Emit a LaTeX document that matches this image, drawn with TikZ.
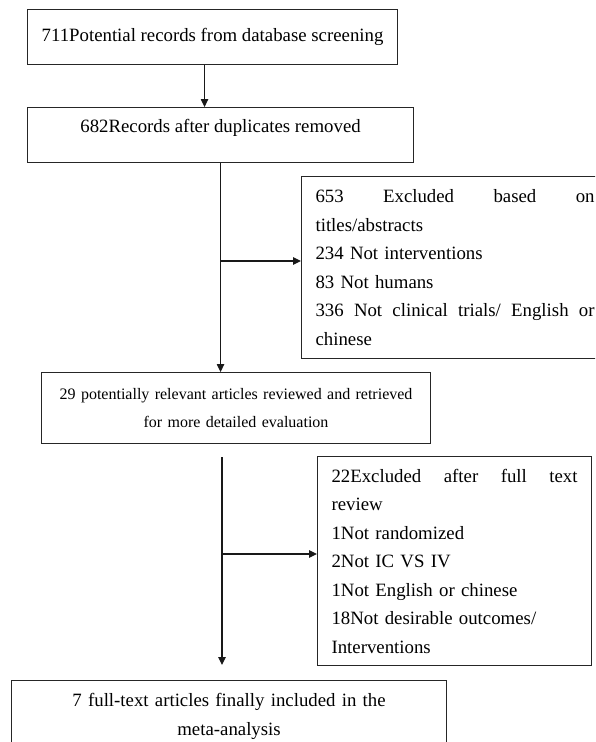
\documentclass[tikz,border=0pt]{standalone}
\usepackage{fontspec}
\setmainfont{Liberation Serif}
\usetikzlibrary{arrows.meta}
% a line spread over the whole text width
\newcommand{\fullline}[2]{\leavevmode\hbox to #1{#2}}

\begin{document}
\begin{tikzpicture}[x=1pt, y=-1pt,
    box/.style={draw=black!85, line width=1.1pt, rectangle, anchor=north west, inner ysep=0pt,
        font=\fontsize{18.8}{28.5}\selectfont},
    arr/.style={black!90, line width=1.2pt, -{Triangle[length=8pt, width=7.5pt]}}]
    \clip (0,0) rectangle (595,742);
    % boxes
    \node[box, minimum width=370pt, minimum height=55pt] (records) at (27,9)
        {711Potential records from database screening};
    \node[box, minimum width=386pt, minimum height=55pt, text depth=19pt] (dedup) at (27,107)
        {682Records after duplicates removed};
    \node[box, text width=279pt, inner xsep=14pt, minimum height=182pt, align=left] (titles) at (301,176)
        {\fullline{279pt}{653\hfill Excluded\hfill based\hfill on}\\ titles/abstracts\\ 234 Not interventions\\ 83 Not humans\\
         \fullline{279pt}{336\hfill Not\hfill clinical\hfill trials/\hfill English\hfill or}\\ chinese};
    \node[box, text width=370pt, inner xsep=9.5pt, minimum height=71pt, align=center,
        font=\fontsize{16}{28}\selectfont] (screened) at (41,372)
        {29 potentially relevant articles reviewed and retrieved\\ for more detailed evaluation};
    \node[box, text width=246pt, inner xsep=14pt, minimum height=209pt, align=left] (fulltext) at (317,456)
        {\fullline{246pt}{22Excluded\hfill after\hfill full\hfill text}\\ review\\ 1Not randomized\\ 2Not IC VS IV\\
         1Not English or chinese\\ 18Not desirable outcomes/\\ Interventions};
    \node[box, text width=415pt, inner xsep=10pt, minimum height=72pt, align=center] (final) at (11,680)
        {7 full-text articles finally included in the\\ meta-analysis};
    % first arrows
    \draw[arr] ([xshift=-8pt]records.south) -- ([xshift=-8pt]records.south |- dedup.north);
    \draw[arr] (dedup.south) -- (dedup.south |- screened.north);
    \coordinate (split1) at (220,261);
    \draw[arr] (split1) -- (split1 -| titles.west);
    % second stem
    \coordinate (stem) at (222,457);
    \coordinate (split2) at (222,554);
    \draw[arr, shorten >=15pt] (stem) -- (stem |- final.north);
    \draw[arr] (split2) -- (split2 -| fulltext.west);
\end{tikzpicture}
\end{document}
